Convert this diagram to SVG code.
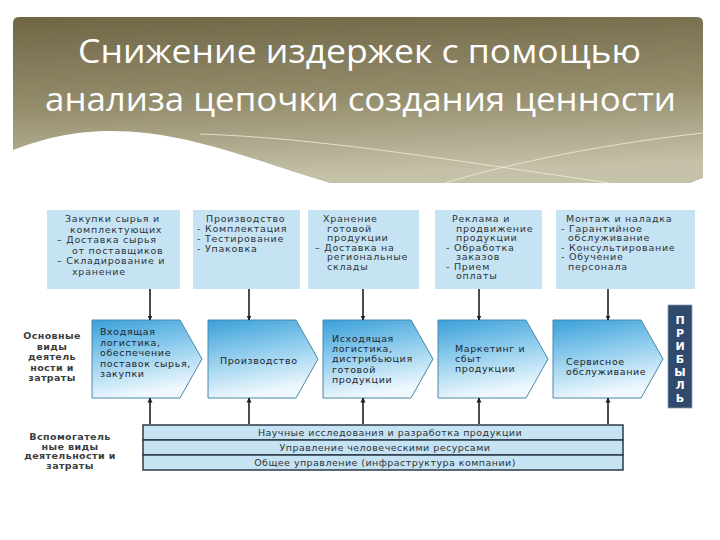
<svg xmlns="http://www.w3.org/2000/svg" width="720" height="540" viewBox="0 0 720 540">
  <defs>
    <linearGradient id="banner" x1="0" y1="0" x2="0.15" y2="1">
      <stop offset="0" stop-color="#6f6646"/>
      <stop offset="0.55" stop-color="#958e6d"/>
      <stop offset="1" stop-color="#c4c1a8"/>
    </linearGradient>
    <linearGradient id="chev" x1="0" y1="0" x2="0.25" y2="1">
      <stop offset="0" stop-color="#39a0da"/>
      <stop offset="0.45" stop-color="#8acaec"/>
      <stop offset="1" stop-color="#eef8fd"/>
    </linearGradient>
    <marker id="ah" viewBox="0 0 10 10" refX="9" refY="5" markerWidth="5" markerHeight="6" orient="auto" markerUnits="userSpaceOnUse">
      <path d="M0,0 L10,5 L0,10 Z" fill="#1e1e1e"/>
    </marker>
    <style>
      .title { font-family: "Open Sans", "Liberation Sans", sans-serif; font-size: 33px; fill: #ffffff; }
      .box { fill: #c5e3f3; }
      .bt { font-family: "DejaVu Sans", "Liberation Sans", sans-serif; font-size: 9.5px; letter-spacing: 0.75px; fill: #2e3338; }
      .ct { font-family: "DejaVu Sans", "Liberation Sans", sans-serif; font-size: 9.5px; letter-spacing: 0.6px; fill: #1f262c; }
      .chev { fill: url(#chev); stroke: #4a88a8; stroke-width: 1; }
      .lbl { font-family: "DejaVu Sans", "Liberation Sans", sans-serif; font-size: 9.5px; letter-spacing: 0.4px; font-weight: bold; fill: #3a3d40; text-anchor: middle; }
      .bar { fill: #c6e3f3; stroke: #2c3a47; stroke-width: 1.5; }
      .bart { font-family: "DejaVu Sans", "Liberation Sans", sans-serif; font-size: 9.5px; letter-spacing: 0.45px; fill: #2e3338; text-anchor: middle; }
      .conn { stroke: #1e1e1e; stroke-width: 1.6; fill: none; marker-end: url(#ah); }
      .pt { font-family: "DejaVu Sans", "Liberation Sans", sans-serif; font-size: 11px; font-weight: bold; fill: #ffffff; text-anchor: middle; }
    </style>
  </defs>

  <rect width="720" height="540" fill="#ffffff"/>

  <g id="title">
    <path d="M13,150 L13,23 Q13,17 19,17 L697,17 Q703,17 703,23 L703,178 L690,183 L330,183 C260,163 190,131 110,131 C70,131 40,140 13,150 Z" fill="url(#banner)"/>
    <path d="M200,134 C320,138 450,160 610,183" fill="none" stroke="#ece9da" stroke-width="1" opacity="0.85"/>
    <path d="M445,183 C520,160 620,142 703,133" fill="none" stroke="#ece9da" stroke-width="1" opacity="0.85"/>
    <text class="title" x="78" y="63" textLength="563" lengthAdjust="spacingAndGlyphs">Снижение издержек с помощью</text>
    <text class="title" x="45" y="111" textLength="631" lengthAdjust="spacingAndGlyphs">анализа цепочки создания ценности</text>
  </g>

  <g id="box1">
    <rect class="box" x="47" y="210" width="133" height="79"/>
    <text class="bt" x="65" y="222">Закупки сырья и</text>
    <text class="bt" x="70" y="232.5">комплектующих</text>
    <text class="bt" x="57" y="243">– Доставка сырья</text>
    <text class="bt" x="72" y="253.5">от поставщиков</text>
    <text class="bt" x="57" y="264">– Складирование и</text>
    <text class="bt" x="72" y="274.5">хранение</text>
  </g>
  <g id="box2">
    <rect class="box" x="193" y="210" width="107" height="79"/>
    <text class="bt" x="206" y="222">Производство</text>
    <text class="bt" x="197" y="232">- Комплектация</text>
    <text class="bt" x="197" y="242">- Тестирование</text>
    <text class="bt" x="197" y="252">- Упаковка</text>
  </g>
  <g id="box3">
    <rect class="box" x="308" y="210" width="111" height="79"/>
    <text class="bt" x="323" y="222">Хранение</text>
    <text class="bt" x="327" y="231.5">готовой</text>
    <text class="bt" x="327" y="241">продукции</text>
    <text class="bt" x="315" y="250.5">– Доставка на</text>
    <text class="bt" x="327" y="260">региональные</text>
    <text class="bt" x="327" y="269.5">склады</text>
  </g>
  <g id="box4">
    <rect class="box" x="435" y="210" width="107" height="79"/>
    <text class="bt" x="452" y="222">Реклама и</text>
    <text class="bt" x="456" y="231.5">продвижение</text>
    <text class="bt" x="456" y="241">продукции</text>
    <text class="bt" x="446" y="250.5">- Обработка</text>
    <text class="bt" x="456" y="260">заказов</text>
    <text class="bt" x="446" y="269.5">- Прием</text>
    <text class="bt" x="456" y="279">оплаты</text>
  </g>
  <g id="box5">
    <rect class="box" x="556" y="210" width="139" height="79"/>
    <text class="bt" x="566" y="222">Монтаж и наладка</text>
    <text class="bt" x="561" y="231.5">- Гарантийное</text>
    <text class="bt" x="568" y="241">обслуживание</text>
    <text class="bt" x="561" y="250.5">- Консультирование</text>
    <text class="bt" x="561" y="260">- Обучение</text>
    <text class="bt" x="568" y="269.5">персонала</text>
  </g>

  <g id="label-primary">
    <text class="lbl" x="52" y="339">Основные</text>
    <text class="lbl" x="52" y="349.5">виды</text>
    <text class="lbl" x="52" y="360">деятель</text>
    <text class="lbl" x="52" y="370.5">ности и</text>
    <text class="lbl" x="52" y="381">затраты</text>
  </g>

  <g id="chev1">
    <path class="chev" d="M92,320 H180 L202,359 L180,398 H92 Z"/>
    <text class="ct" x="100" y="335">Входящая</text>
    <text class="ct" x="100" y="345.5">логистика,</text>
    <text class="ct" x="100" y="356">обеспечение</text>
    <text class="ct" x="100" y="366.5">поставок сырья,</text>
    <text class="ct" x="100" y="377">закупки</text>
  </g>
  <g id="chev2">
    <path class="chev" d="M208,320 H296 L318,359 L296,398 H208 Z"/>
    <text class="ct" x="220" y="364">Производство</text>
  </g>
  <g id="chev3">
    <path class="chev" d="M323,320 H411 L433,359 L411,398 H323 Z"/>
    <text class="ct" x="332" y="342">Исходящая</text>
    <text class="ct" x="332" y="352">логистика,</text>
    <text class="ct" x="332" y="362">дистрибьюция</text>
    <text class="ct" x="332" y="372.5">готовой</text>
    <text class="ct" x="332" y="383">продукции</text>
  </g>
  <g id="chev4">
    <path class="chev" d="M438,320 H526 L548,359 L526,398 H438 Z"/>
    <text class="ct" x="455" y="352">Маркетинг и</text>
    <text class="ct" x="455" y="362">сбыт</text>
    <text class="ct" x="455" y="372">продукции</text>
  </g>
  <g id="chev5">
    <path class="chev" d="M553,320 H641 L663,359 L641,398 H553 Z"/>
    <text class="ct" x="566" y="365">Сервисное</text>
    <text class="ct" x="566" y="375">обслуживание</text>
  </g>

  <g id="profit">
    <rect x="668" y="305" width="24" height="103" fill="#2f4a6c" stroke="#8a9bb0" stroke-width="0.8"/>
    <text class="pt" x="680" y="324">П</text>
    <text class="pt" x="680" y="337">Р</text>
    <text class="pt" x="680" y="350">И</text>
    <text class="pt" x="680" y="363">Б</text>
    <text class="pt" x="680" y="376">Ы</text>
    <text class="pt" x="680" y="389">Л</text>
    <text class="pt" x="680" y="402">Ь</text>
  </g>

  <g id="label-support">
    <text class="lbl" x="70" y="440">Вспомогатель</text>
    <text class="lbl" x="70" y="449.5">ные виды</text>
    <text class="lbl" x="70" y="459">деятельности и</text>
    <text class="lbl" x="70" y="468.5">затраты</text>
  </g>

  <g id="support">
    <rect class="bar" x="143" y="425" width="480" height="15"/>
    <rect class="bar" x="143" y="440" width="480" height="15"/>
    <rect class="bar" x="143" y="455" width="480" height="15"/>
    <text class="bart" x="390" y="436">Научные исследования и разработка продукции</text>
    <text class="bart" x="385" y="451">Управление человеческими ресурсами</text>
    <text class="bart" x="385" y="466">Общее управление (инфраструктура компании)</text>
  </g>

  <g id="connectors">
    <line class="conn" x1="150" y1="289" x2="150" y2="320"/>
    <line class="conn" x1="249" y1="289" x2="249" y2="320"/>
    <line class="conn" x1="363" y1="289" x2="363" y2="320"/>
    <line class="conn" x1="479" y1="289" x2="479" y2="320"/>
    <line class="conn" x1="608" y1="289" x2="608" y2="320"/>
    <line class="conn" x1="150" y1="424" x2="150" y2="398"/>
    <line class="conn" x1="249" y1="424" x2="249" y2="398"/>
    <line class="conn" x1="363" y1="424" x2="363" y2="398"/>
    <line class="conn" x1="479" y1="424" x2="479" y2="398"/>
    <line class="conn" x1="608" y1="424" x2="608" y2="398"/>
  </g>
</svg>
